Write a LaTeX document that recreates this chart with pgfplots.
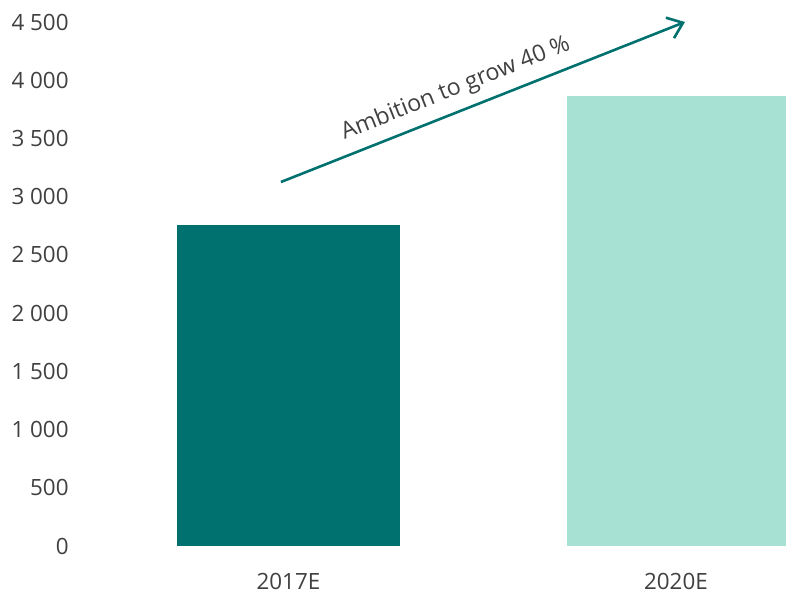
\documentclass[border=0pt]{standalone}
\usepackage{pgfplots}
\pgfplotsset{compat=1.18}
\usepackage{fontspec}
\setmainfont{Open Sans}
\usetikzlibrary{arrows.meta}
\definecolor{darkteal}{HTML}{00716F}
\definecolor{lightteal}{HTML}{A6E1D3}
\definecolor{txt}{HTML}{404040}
\begin{document}
\begin{tikzpicture}
\begin{axis}[
  at={(0pt,0pt)}, anchor=south west,
  scale only axis, width=353pt, height=262pt,
  xmin=-0.538, xmax=1.284, ymin=0, ymax=4500,
  axis line style={draw=none}, major tick length=0pt,
  xtick={0,1}, xticklabels={2017E,2020E},
  ytick={0,500,1000,1500,2000,2500,3000,3500,4000,4500},
  yticklabels={0,500,1 000,1 500,2 000,2 500,3 000,3 500,4 000,4 500},
  yticklabel style={anchor=east, inner sep=0pt, xshift=-5.5pt},
  xticklabel style={anchor=center, inner sep=0pt, yshift=-17.5pt},
  ticklabel style={font=\fontsize{11.2}{13}\selectfont, text=txt},
  ybar, bar width=111.5pt, bar shift=0pt,
  clip=false,
]
\addplot[fill=darkteal, draw=none] coordinates {(0,2757)};
\addplot[fill=lightteal, draw=none, bar width=110pt] coordinates {(1.0025,3865)};
\draw[darkteal, line width=1.3pt, -{Straight Barb[length=7pt,width=11pt,line width=1.3pt]}]
  (axis cs:-0.0194,3126) -- (axis cs:1.0232,4500);
\node[rotate=21.6, text=txt, font=\fontsize{11.6}{13}\selectfont, inner sep=0pt]
  at (axis cs:0.432,3925) {Ambition to grow 40 \%};
\end{axis}
\pgfresetboundingbox
\path (-40pt,-24.5pt) rectangle (353pt,273pt);
\end{tikzpicture}
\end{document}
